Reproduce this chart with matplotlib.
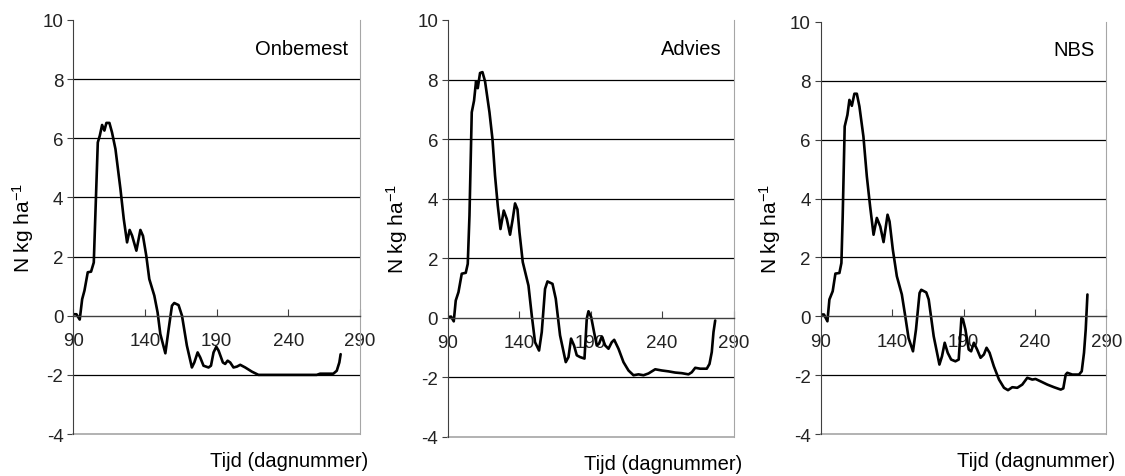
import matplotlib.pyplot as plt

plt.rcParams['font.family'] = ['Liberation Sans', 'DejaVu Sans']
plt.rcParams['axes.unicode_minus'] = False
plt.rcParams['mathtext.default'] = 'regular'

# Onbemest
dag_onb = [90, 92.3, 94.6, 96.3, 97.9, 100.2, 102.5, 104.4, 105.5, 107.2, 108.6, 110.2,
           111.8, 113.2, 115.3, 117.1, 119.5, 123, 125.3, 127.6, 129.4, 131.1, 134.1,
           136.9, 138.7, 141, 143.1, 146.6, 148.9, 150.8, 154.3, 156.6, 158.9, 160.5,
           163.5, 165.9, 169.3, 172.8, 174.5, 176.8, 178.6, 180.9, 184.4, 186.1, 187.9,
           189.8, 191.4, 194.4, 196, 197.7, 199.5, 201.8, 204.2, 206.5, 210, 214.6,
           219.2, 225, 236.6, 248.2, 259.8, 262.2, 271.4, 273.8, 275.6, 276.5]
n_onb = [0.05, 0.05, -0.13, 0.56, 0.85, 1.47, 1.49, 1.8, 3.4, 5.86, 6.09, 6.45,
         6.26, 6.52, 6.52, 6.2, 5.64, 4.28, 3.27, 2.48, 2.9, 2.71, 2.2,
         2.9, 2.7, 2.03, 1.24, 0.68, 0.11, -0.62, -1.27, -0.45, 0.34, 0.43,
         0.36, 0.0, -1.01, -1.75, -1.58, -1.24, -1.41, -1.69, -1.75, -1.69, -1.24,
         -1.05, -1.18, -1.58, -1.63, -1.52, -1.58, -1.75, -1.72, -1.66, -1.75, -1.89,
         -2.0, -2.0, -2.0, -2.0, -2.0, -1.96, -1.96, -1.86, -1.58, -1.3]

# Advies
dag_adv = [90, 92.3, 94.2, 95.6, 97.5, 99.8, 102.6, 104, 105.2, 106.8, 108.4, 109.8,
           111, 112.6, 114.3, 116.1, 119.2, 121.3, 123.1, 125, 126.9, 129.2, 131.3,
           133.6, 135.5, 137.1, 138.8, 140.2, 142.5, 146.5, 148.8, 151.1, 153.9, 155.8,
           158.1, 159.8, 163.3, 165.6, 168.6, 172.6, 174.5, 176.3, 178.4, 180.3, 182.6,
           185.7, 187.3, 188.5, 190.4, 192.4, 194.3, 195.9, 197.8, 200.2, 202.5, 204.8,
           206.5, 209.5, 213, 216.5, 220, 223.5, 227, 230.5, 235.2, 239.8, 244.5,
           249.2, 253.8, 258.5, 260.8, 263.2, 266.7, 271.3, 273.2, 274.8, 276, 277.2]
n_adv = [0.02, 0.04, -0.12, 0.58, 0.86, 1.48, 1.51, 1.81, 3.43, 6.9, 7.29, 7.94,
         7.71, 8.22, 8.25, 7.94, 6.9, 6.0, 4.77, 3.77, 2.98, 3.6, 3.32,
         2.79, 3.32, 3.84, 3.64, 2.87, 1.87, 1.08, 0.08, -0.82, -1.1, -0.48,
         0.97, 1.22, 1.14, 0.64, -0.59, -1.49, -1.32, -0.7, -0.93, -1.26, -1.32,
         -1.37, -0.03, 0.22, 0.02, -0.48, -0.93, -0.87, -0.63, -0.93, -1.04, -0.82,
         -0.74, -1.04, -1.49, -1.77, -1.93, -1.9, -1.93, -1.87, -1.73, -1.77, -1.8,
         -1.84, -1.86, -1.9, -1.83, -1.68, -1.71, -1.71, -1.55, -1.15, -0.48, -0.09]

# NBS
dag_nbs = [90, 92.3, 94.7, 96.1, 98.4, 100.3, 103.1, 104.5, 105.4, 106.8, 108.7, 110.1,
           111.8, 113.6, 115.3, 117.1, 119.9, 122.3, 124.6, 127, 129.3, 131.7, 134,
           136.8, 138.2, 140.5, 143.3, 146.8, 149.2, 151.5, 154.6, 156.7, 159.2, 160.4,
           163.9, 165.6, 169.1, 173.1, 174.9, 176.8, 178.9, 181.3, 184.3, 186.6, 188.5,
           189.5, 191.3, 193.6, 195.3, 197.2, 199.5, 201.9, 204.2, 206.1, 208.2, 211.2,
           214.8, 218.3, 221.1, 224.1, 227.6, 231.1, 234.6, 238.1, 240.4, 243.9, 248.6,
           253.3, 258, 259.8, 261.5, 262.6, 266.1, 270.8, 272.7, 274.3, 275.5, 276.7]
n_nbs = [0.06, 0.06, -0.17, 0.57, 0.85, 1.45, 1.47, 1.81, 3.39, 6.45, 6.84, 7.35,
         7.15, 7.56, 7.56, 7.13, 6.11, 4.75, 3.73, 2.77, 3.34, 3.05, 2.52,
         3.45, 3.22, 2.26, 1.36, 0.74, 0.0, -0.74, -1.19, -0.45, 0.79, 0.9,
         0.81, 0.57, -0.68, -1.64, -1.36, -0.9, -1.24, -1.47, -1.53, -1.47, -0.06,
         -0.09, -0.45, -1.13, -1.19, -0.9, -1.13, -1.41, -1.3, -1.07, -1.24, -1.7,
         -2.15, -2.43, -2.51, -2.41, -2.43, -2.32, -2.09, -2.15, -2.13, -2.21, -2.32,
         -2.41, -2.49, -2.45, -1.98, -1.92, -1.98, -1.98, -1.87, -1.24, -0.45, 0.74]

titels = ['Onbemest', 'Advies', 'NBS']
x_ticks = [90, 140, 190, 240, 290]
y_ticks = [-4, -2, 0, 2, 4, 6, 8, 10]

series = [(dag_onb, n_onb), (dag_adv, n_adv), (dag_nbs, n_nbs)]
posities = [[0.065, 0.088, 0.255, 0.868],
            [0.398, 0.082, 0.254, 0.874],
            [0.7295, 0.088, 0.254, 0.864]]

fig = plt.figure(figsize=(11.25, 4.77), dpi=100)

for (dag, n), titel, pos in zip(series, titels, posities):
    ax = fig.add_axes(pos)
    ax.plot(dag, n, color='black', lw=1.9, solid_joinstyle='round',
            solid_capstyle='round')
    ax.set_xlim(90, 290)
    ax.set_ylim(-4, 10)
    ax.set_yticks(y_ticks)
    ax.set_xticks(x_ticks)

    for y in y_ticks:
        if y not in (-4, 0, 10):
            ax.axhline(y, color='black', lw=0.9, zorder=0)

    # x-as door nul, maatstreepjes omhoog
    ax.spines['bottom'].set_position(('data', 0))
    ax.spines['bottom'].set_color('#404040')
    ax.spines['bottom'].set_linewidth(1.0)
    ax.tick_params(axis='x', direction='in', length=5, pad=12, labelsize=13.5,
                   color='#404040', labelcolor='#222222')
    ax.tick_params(axis='y', direction='out', length=4, labelsize=13.5,
                   color='#404040', labelcolor='#222222', pad=3)
    ax.spines['left'].set_color('#404040')
    ax.spines['right'].set_color('#a6a6a6')
    ax.spines['top'].set_visible(False)
    ax.plot([0, 1], [0, 0], transform=ax.transAxes, color='#a6a6a6', lw=1.2,
            clip_on=False)

    ax.text(0.96, 0.955, titel, transform=ax.transAxes, ha='right', va='top',
            fontsize=14.5)
    ax.set_ylabel('N kg ha$^{-1}$', fontsize=15, labelpad=5)
    ax.text(1.03, -0.04, 'Tijd (dagnummer)', transform=ax.transAxes,
            ha='right', va='top', fontsize=14.5)

plt.savefig('out.png', dpi=100)
